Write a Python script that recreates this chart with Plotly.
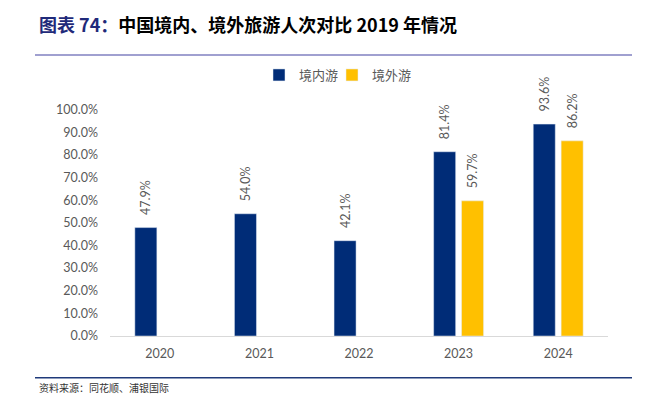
import plotly.graph_objects as go

years = ["2020", "2021", "2022", "2023", "2024"]
domestic = [0.479, 0.540, 0.421, 0.814, 0.936]
outbound = [None, None, None, 0.597, 0.862]
series_names = ["境内游", "境外游"]
title_prefix = "图表 74："
title_rest = "中国境内、境外旅游人次对比 2019 年情况"
source_text = "资料来源：同花顺、浦银国际"

NAVY = "#002C77"
GOLD = "#FFC000"
GREY = "#595959"

OFF = 8  # page body margin
W, H = 650 - OFF, 395 - OFF
L = 110 - OFF
T = 108 - OFF
R = W - (608 - OFF)
B = H - (336 - OFF)
PW = W - L - R
PH = H - T - B

def px_x(px):
    return (px - OFF - L) / PW

def px_y(py):
    return (H - B - (py - OFF)) / PH

def lbl(vals):
    return ["\u00a0\u00a0\u00a0" + f"{v*100:.1f}%" if v is not None else "" for v in vals]

fig = go.Figure()
fig.add_trace(go.Bar(x=years, y=domestic, name=series_names[0], marker_color=NAVY,
                     text=lbl(domestic), textposition="outside", textangle=-90,
                     textfont=dict(color=GREY, size=12.5, family="Lato"),
                     cliponaxis=False, constraintext="none"))
fig.add_trace(go.Bar(x=years, y=outbound, name=series_names[1], marker_color=GOLD,
                     text=lbl(outbound), textposition="outside", textangle=-90,
                     textfont=dict(color=GREY, size=12.5, family="Lato"),
                     cliponaxis=False, constraintext="none"))
# invisible spacer entry so the last legend label is not clipped
fig.add_trace(go.Scatter(x=[None], y=[None], name=" ", mode="markers",
                         marker=dict(opacity=0, color="rgba(0,0,0,0)"), hoverinfo="skip"))

fig.update_layout(
    width=W, height=H,
    margin=dict(l=L, r=R, t=T, b=B),
    paper_bgcolor="white", plot_bgcolor="white",
    barmode="group", bargap=0.44, bargroupgap=0.21,
    font=dict(family="Lato, Noto Sans CJK SC", color=GREY, size=12),
    showlegend=True,
    legend=dict(orientation="h", xref="container", yref="container",
                x=(259 - OFF) / W, y=1 - (75 - OFF) / H, xanchor="left", yanchor="middle",
                font=dict(family="Noto Sans CJK SC", size=13, color=GREY),
                itemwidth=30, traceorder="normal", entrywidth=28),
    xaxis=dict(type="category", showline=True, linecolor="#D9D9D9", linewidth=1,
               ticks="", showgrid=False, tickfont=dict(size=12.5, color=GREY, family="Lato"),
               ticklabelstandoff=6),
    yaxis=dict(range=[0, 1], dtick=0.1, tickformat=".1%", showgrid=False,
               zeroline=False, showline=False, ticks="",
               tickfont=dict(size=12.5, color=GREY, family="Lato"),
               ticklabelstandoff=11),
)

fig.add_annotation(xref="paper", yref="paper", x=px_x(37), y=px_y(22),
                   xanchor="left", yanchor="middle", showarrow=False,
                   text=f"<b><span style='color:#1F2A7A'>{title_prefix}</span>{title_rest}</b>",
                   font=dict(family="Noto Sans CJK SC", size=18, color="#000000"))
fig.add_annotation(xref="paper", yref="paper", x=px_x(37), y=px_y(388),
                   xanchor="left", yanchor="middle", showarrow=False,
                   text=source_text,
                   font=dict(family="Noto Sans CJK SC", size=10, color="#333333"))
fig.add_shape(type="line", xref="paper", yref="paper", x0=px_x(35), x1=px_x(632),
              y0=px_y(53), y1=px_y(53), line=dict(color="#A0A0D0", width=2))
fig.add_shape(type="line", xref="paper", yref="paper", x0=px_x(35), x1=px_x(632),
              y0=px_y(378), y1=px_y(378), line=dict(color="#1F3A7A", width=1.5))

fig.write_html("out.html")
